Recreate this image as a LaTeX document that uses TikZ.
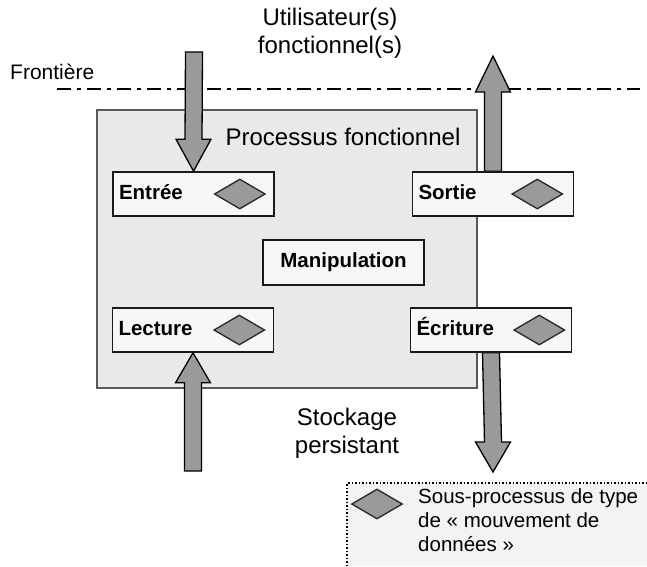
\documentclass[tikz,border=0pt]{standalone}
\usepackage{fontspec}
\setmainfont{Liberation Sans}
\usetikzlibrary{calc,shapes.geometric}

\definecolor{procfill}{HTML}{E9E9E9}
\definecolor{boxfill}{HTML}{F7F7F7}
\definecolor{markfill}{HTML}{9A9A9A}
\definecolor{legfill}{HTML}{F3F3F3}

% vertical block arrow: tail, tip, signed head length
\newcommand\fatarrow[3]{%
  \draw[fatarrow] ($(#1)+(-8.5,0)$) -- ($(#2)+(-8.5,#3)$) -- ($(#2)+(-17.5,#3)$)
    -- (#2) -- ($(#2)+(17.5,#3)$) -- ($(#2)+(8.5,#3)$) -- ($(#1)+(8.5,0)$) -- cycle;}

\begin{document}
\begin{tikzpicture}[
  x=1pt, y=-1pt,
  every node/.style={font=\fontsize{21}{25}\selectfont},
  bigtext/.style={font=\fontsize{24}{28}\selectfont, align=center},
  subbox/.style={draw=black!90, line width=1.6pt, fill=boxfill, minimum width=161pt,
                 minimum height=44pt, inner sep=6pt, text width=149pt, align=left,
                 text height=15pt, text depth=4.5pt,
                 font=\fontsize{20.5}{24}\selectfont\bfseries},
  movemark/.style={diamond, draw=black!85, line width=1.3pt, fill=markfill,
               minimum width=51pt, minimum height=30pt, inner sep=0pt},
  fatarrow/.style={draw=black, line width=1.3pt, fill=markfill, line join=miter}
]
  \useasboundingbox (0,0) rectangle (647,566);

  % legend area
  \fill[legfill] (347,483) rectangle (647,566);
  \draw[dotted, line width=1.5pt] (347,566) |- (647,483);
  \node[movemark] (legmark) at (377,504) {};
  \node[anchor=north west, align=left, inner sep=0pt,
        font=\fontsize{20.5}{24}\selectfont] (legtext) at (418,488)
    {Sous-processus de type\\de « mouvement de\\données »};

  % boundary
  \node[anchor=west, inner sep=0pt] (frontiere) at (10,72) {Frontière};
  \draw[line width=2.4pt, dash pattern=on 14pt off 6pt on 4pt off 6pt]
    (57,89) -- (640,89);
  \node[bigtext] (users) at (330,33) {Utilisateur(s)\\fonctionnel(s)};

  % functional process
  \node[draw=black!65, line width=1.4pt, fill=procfill, minimum width=380pt,
        minimum height=278pt] (process) at (287,249) {};
  \node[bigtext] (proctitle) at (343,137) {Processus fonctionnel};
  \node[bigtext] (storage) at (347,433) {Stockage\\persistant};

  \coordinate (userin) at (194,52);
  \coordinate (userout) at (493,56);
  \coordinate (storein) at (193,471);
  \coordinate (storeout) at (493,472);

  \node[subbox] (entree) at (193.5,194) {Entrée};
  \node[subbox] (sortie) at (493,194) {Sortie};
  \node[subbox] (lecture) at (193,330) {Lecture};
  \node[subbox] (ecriture) at (491,330) {Écriture};
  \node[subbox, align=center, minimum height=45pt] (manip) at (343.5,262.5) {Manipulation};

  % data movements
  \fatarrow{userin}{entree.north}{-32}
  \fatarrow{sortie.north}{userout}{36}
  \fatarrow{storein}{lecture.south}{30}
  \fatarrow{ecriture.south}{storeout}{-30}

  % redraw boxes over arrow ends
  \node[subbox] at (entree) {Entrée};
  \node[subbox] at (sortie) {Sortie};
  \node[subbox] at (lecture) {Lecture};
  \node[subbox] at (ecriture) {Écriture};

  \node[movemark] (mentree) at ($(entree.east)+(-35,0)$) {};
  \node[movemark] (msortie) at ($(sortie.east)+(-37,0)$) {};
  \node[movemark] (mlecture) at ($(lecture.east)+(-35,0)$) {};
  \node[movemark] (mecriture) at ($(ecriture.east)+(-33,0)$) {};
\end{tikzpicture}
\end{document}
